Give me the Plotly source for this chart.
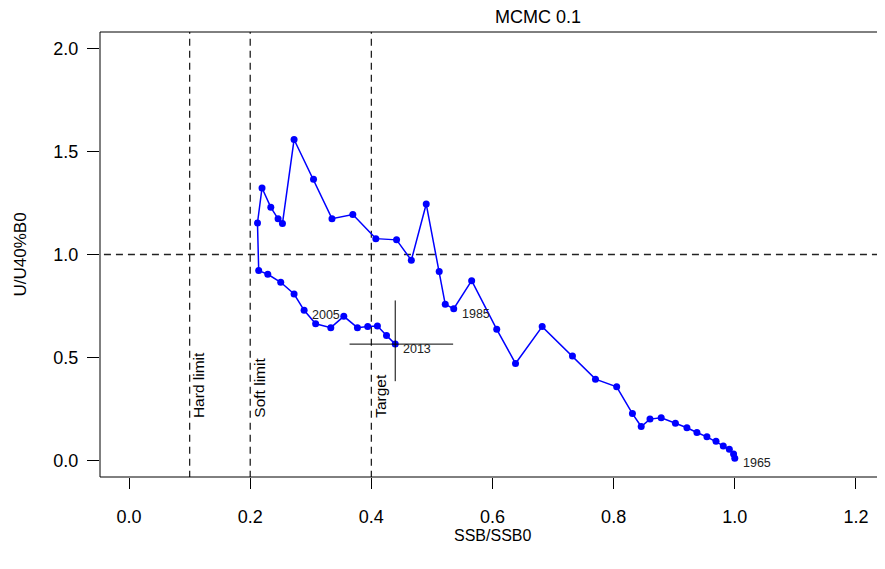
import plotly.graph_objects as go

# ---- data ----
years = list(range(1965, 2014))
ssb = [1.000, 0.998, 0.991, 0.981, 0.969, 0.954, 0.9375, 0.921, 0.902, 0.8785,
       0.860, 0.8455, 0.831, 0.805, 0.770, 0.732, 0.682, 0.638, 0.607, 0.5656,
       0.536, 0.522, 0.512, 0.4906, 0.466, 0.4416, 0.4074, 0.3694, 0.335, 0.3045,
       0.2724, 0.2532, 0.246, 0.234, 0.2195, 0.212, 0.214, 0.229, 0.2504, 0.2724,
       0.289, 0.308, 0.333, 0.3545, 0.377, 0.394, 0.410, 0.425, 0.4394]
u_rel = [0.011, 0.032, 0.055, 0.071, 0.094, 0.115, 0.136, 0.159, 0.181, 0.207,
         0.201, 0.165, 0.228, 0.358, 0.395, 0.507, 0.650, 0.471, 0.637, 0.873,
         0.737, 0.758, 0.917, 1.245, 0.972, 1.071, 1.077, 1.194, 1.174, 1.365,
         1.558, 1.150, 1.173, 1.229, 1.323, 1.153, 0.922, 0.904, 0.865, 0.808,
         0.729, 0.664, 0.645, 0.700, 0.645, 0.651, 0.653, 0.607, 0.565]
label_years = [1965, 1985, 2005, 2013]

ssb_ci = [0.364, 0.535]
u_ci = [0.385, 0.777]

hard_limit = 0.1
soft_limit = 0.2
target = 0.4
u_ref = 1.0
ref_labels = ["Hard limit", "Soft limit", "Target"]
ref_values = [hard_limit, soft_limit, target]

x_ticks = [0.0, 0.2, 0.4, 0.6, 0.8, 1.0, 1.2]
y_ticks = [0.0, 0.5, 1.0, 1.5, 2.0]

FONT = "Liberation Sans, Arial, sans-serif"
DASH = "7px,5px"

fig = go.Figure()

# reference dashed lines
for v in ref_values:
    fig.add_trace(go.Scatter(x=[v, v], y=[-0.2, 2.3], mode="lines",
                             line=dict(color="#222", width=1.3, dash=DASH),
                             hoverinfo="skip", showlegend=False))
fig.add_trace(go.Scatter(x=[-0.2, 1.5], y=[u_ref, u_ref], mode="lines",
                         line=dict(color="#222", width=1.3, dash=DASH),
                         hoverinfo="skip", showlegend=False))

# trajectory
fig.add_trace(go.Scatter(x=ssb, y=u_rel, mode="lines+markers",
                         line=dict(color="#0000FF", width=1.5),
                         marker=dict(color="#0000FF", size=7),
                         showlegend=False))

# crosshair for final year
fig.add_trace(go.Scatter(x=ssb_ci, y=[u_rel[-1], u_rel[-1]], mode="lines",
                         line=dict(color="black", width=1), showlegend=False))
fig.add_trace(go.Scatter(x=[ssb[-1], ssb[-1]], y=u_ci, mode="lines",
                         line=dict(color="black", width=1), showlegend=False))

annotations = []
for yr in label_years:
    i = years.index(yr)
    annotations.append(dict(x=ssb[i], y=u_rel[i], xref="x", yref="y",
                            text=str(yr), showarrow=False, xanchor="left",
                            yanchor="middle", xshift=6, yshift=-5,
                            font=dict(family=FONT, size=12.5, color="#222")))
for lab, v in zip(ref_labels, ref_values):
    annotations.append(dict(x=v, y=0.197, xref="x", yref="y", text=lab,
                            showarrow=False, textangle=-90, xanchor="left",
                            yanchor="bottom", xshift=-1,
                            font=dict(family=FONT, size=15.5, color="black")))

annotations.append(dict(x=(538 - 100) / 785, y=(477 - 17) / 445, xref="paper",
                        yref="paper", text="MCMC 0.1", showarrow=False,
                        xanchor="center", yanchor="middle",
                        font=dict(family=FONT, size=18, color="black")))
annotations.append(dict(x=0.5, y=(477 - 535) / 445, xref="paper", yref="paper",
                        text="SSB/SSB0", showarrow=False, xanchor="center",
                        yanchor="middle",
                        font=dict(family=FONT, size=16, color="black")))
annotations.append(dict(x=(20 - 100) / 785, y=0.5, xref="paper", yref="paper",
                        text="U/U40%B0", showarrow=False, textangle=-90,
                        xanchor="center", yanchor="middle",
                        font=dict(family=FONT, size=17, color="black")))

fig.update_layout(
    template="none",
    width=885, height=569,
    margin=dict(l=92, r=8, t=24, b=100, autoexpand=False),
    paper_bgcolor="white", plot_bgcolor="white",
    annotations=annotations,
    shapes=[dict(type="rect", xref="paper", yref="paper", x0=0, x1=1.02,
                 y0=0, y1=1, line=dict(color="black", width=1))],
    xaxis=dict(range=[-0.048, 1.248], tickvals=x_ticks, tickformat=".1f",
               ticks="outside", ticklen=11, tickcolor="black", tickwidth=1,
               showgrid=False, zeroline=False, showline=False,
               automargin=False,
               tickfont=dict(family=FONT, size=18, color="black"),
               ticklabelstandoff=12),
    yaxis=dict(range=[-0.08, 2.08], tickvals=y_ticks, tickformat=".1f",
               ticks="outside", ticklen=12, tickcolor="black", tickwidth=1,
               showgrid=False, zeroline=False, showline=False,
               automargin=False,
               tickfont=dict(family=FONT, size=18, color="black"),
               ticklabelstandoff=5),
    showlegend=False,
)

fig.write_html("out.html")
